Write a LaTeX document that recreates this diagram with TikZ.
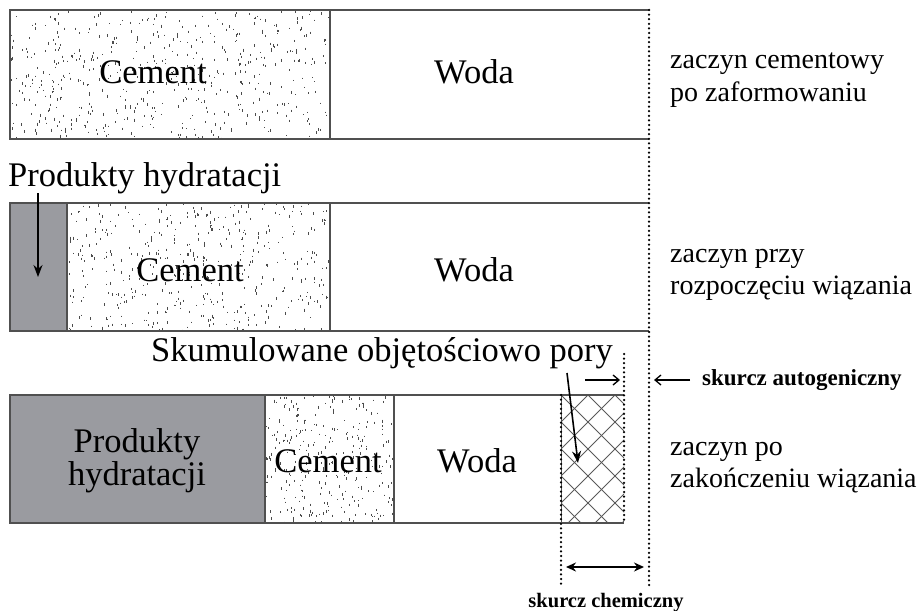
\documentclass[tikz,border=0pt]{standalone}
\usepackage{fontspec}
\setmainfont{Liberation Serif}
\usetikzlibrary{arrows.meta}

\definecolor{prodgray}{RGB}{154,155,160}
\definecolor{edge}{RGB}{80,80,80}

% random short vertical ticks filling a rectangle (cement grain texture)
\newcommand\drawspeckle[5]{%
  \begin{scope}
    \clip (#1,#2) rectangle (#3,#4);
    \pgfmathsetmacro\nspk{int((#3-#1)/5*((#4-#2)/#5))}
    \foreach \k in {1,...,\nspk}{
      \pgfmathsetmacro\sx{#1+rnd*(#3-#1)}
      \pgfmathsetmacro\sy{#2+rnd*(#4-#2)}
      \pgfmathsetmacro\sl{0.8+2.4*rnd}
      \draw[speck] (\sx,\sy) -- ++(0,\sl);
    }
  \end{scope}}

% a vertical column of round dots from (#1,#2) down to (#1,#3)
\newcommand\dotcolumn[3]{%
  \pgfmathsetmacro\dnext{#2+4.6}
  \foreach \dy in {#2,\dnext,...,#3}{\fill[dotfill] (#1,\dy) circle (1.25pt);}}

\begin{document}
\begin{tikzpicture}[x=1pt,y=-1pt,
  outline/.style={draw=edge,line width=1.2pt},
  prod/.style={fill=prodgray},
  speck/.style={draw=black!70,line width=0.75pt},
  dotfill/.style={fill=black},
  hatch/.style={draw=black!65,line width=0.8pt},
  big/.style={font=\fontsize{34.5}{37}\selectfont,inner sep=0pt},
  side/.style={font=\fontsize{28}{32}\selectfont,inner sep=0pt,anchor=base west},
  note/.style={font=\bfseries\fontsize{23}{25}\selectfont,inner sep=0pt},
  pointer/.style={-{Stealth[length=12pt,width=9pt]},line width=1.6pt},
  barb/.style={-{Straight Barb[length=6pt,width=10pt]},line width=1.3pt},
  span/.style={{Stealth[length=10pt,width=9pt]}-{Stealth[length=10pt,width=9pt]},line width=1.6pt}]
\useasboundingbox (0,0) rectangle (923,610);
\pgfmathsetseed{7}

% ---------- paste right after forming ----------
\drawspeckle{10}{10}{330}{139}{15}
\draw[outline] (649,10) -- (10,10) -- (10,139) -- (649,139);
\draw[outline] (330,10) -- (330,139);
\node[big,anchor=base] (c1) at (153,83) {Cement};
\node[big,anchor=base] (w1) at (474,83) {Woda};

% ---------- paste at the start of setting ----------
\fill[prod] (10,203) rectangle (67,331);
\drawspeckle{67}{203}{330}{331}{15}
\draw[outline] (649,203) -- (10,203) -- (10,331) -- (649,331);
\draw[outline] (67,203) -- (67,331);
\draw[outline] (330,203) -- (330,331);
\node[big,anchor=base] (c2) at (190,281) {Cement};
\node[big,anchor=base] (w2) at (474,281) {Woda};
\node[big,anchor=base west] (p2) at (8,186) {Produkty hydratacji};
\coordinate (p2tip) at (38,277);
\draw[pointer] (38,193) -- (p2tip);

% ---------- paste after setting ----------
\fill[prod] (10,395) rectangle (265,523);
\drawspeckle{265}{395}{394}{523}{11}
\begin{scope}
  \clip (561,395) rectangle (624,523);
  \foreach \d in {-162,-135,...,200}{
    \draw[hatch] (561+\d,395) -- ++(140,140);
    \draw[hatch] (561+\d,395) -- ++(-140,140);
  }
\end{scope}
\draw[outline] (624,395) -- (10,395) -- (10,523) -- (624,523);
\draw[outline] (265,395) -- (265,523);
\draw[outline] (394,395) -- (394,523);
\draw[edge,line width=0.8pt] (561,395) -- (561,523);
\node[big,anchor=base] (p3a) at (137,452) {Produkty};
\node[big,anchor=base] (p3b) at (137,485) {hydratacji};
\node[big,anchor=base] (c3) at (328,472) {Cement};
\node[big,anchor=base] (w3) at (477,472) {Woda};

\node[big,anchor=base] (pory) at (382,361) {Skumulowane objętościowo pory};
\coordinate (porystart) at (567,373);
\coordinate (porytip) at (578,463);
\draw[pointer] (porystart) -- (porytip);

% ---------- dotted reference lines ----------
\dotcolumn{649}{10}{588}
\dotcolumn{624}{354}{524}
\dotcolumn{561}{395}{588}

% ---------- shrinkage annotations ----------
\coordinate (sa) at (585,380);
\coordinate (sb) at (620,380);
\draw[barb] (sa) -- (sb);
\coordinate (aa) at (690,380);
\coordinate (ab) at (654,380);
\draw[barb] (aa) -- (ab);
\node[note,anchor=base west] (auto) at (702,385) {skurcz autogeniczny};

\coordinate (ca) at (566,567);
\coordinate (cb) at (644,567);
\draw[span] (ca) -- (cb);
\node[note,anchor=base,font=\bfseries\fontsize{20.5}{22}\selectfont] (chem) at (606,607) {skurcz chemiczny};

% ---------- row captions ----------
\node[side] (s1a) at (670,69) {zaczyn cementowy};
\node[side] (s1b) at (670,101) {po zaformowaniu};
\node[side] (s2a) at (670,262) {zaczyn przy};
\node[side] (s2b) at (670,294) {rozpoczęciu wiązania};
\node[side] (s3a) at (670,455) {zaczyn po};
\node[side] (s3b) at (670,487) {zakończeniu wiązania};
\end{tikzpicture}
\end{document}
